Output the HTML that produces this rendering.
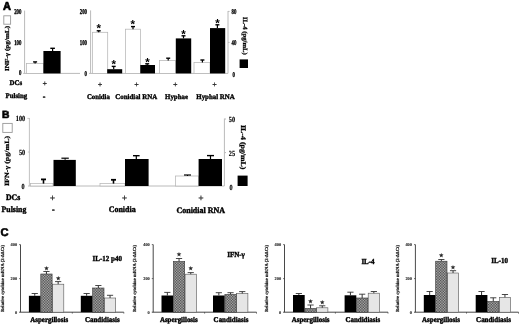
<!DOCTYPE html>
<html lang="en"><head><meta charset="utf-8"><title>Figure</title>
<style>
html,body{margin:0;padding:0;background:#fff;}
body{width:520px;height:325px;overflow:hidden;}
svg{display:block;text-rendering:geometricPrecision;}
.ff-serif{font-family:"Liberation Serif",serif;}
.ff-sans{font-family:"Liberation Sans","DejaVu Sans",sans-serif;}
</style></head><body>
<svg width="520" height="325" viewBox="0 0 520 325">
<defs>
<pattern id="hatch" width="1.6" height="1.6" patternUnits="userSpaceOnUse">
<rect width="1.6" height="1.6" fill="#c2c2c2"/>
<rect x="0" y="0" width="0.8" height="0.8" fill="#383838"/>
<rect x="0.8" y="0.8" width="0.8" height="0.8" fill="#383838"/>
</pattern>
<filter id="soft2" x="-2%" y="-2%" width="104%" height="104%"><feGaussianBlur stdDeviation="0.22"/></filter>
<filter id="soft" x="-2%" y="-2%" width="104%" height="104%"><feGaussianBlur stdDeviation="0.45"/></filter>
</defs>
<rect width="520" height="325" fill="#fff"/>
<g filter="url(#soft)">
<text class="ff-sans" transform="translate(2.9,10) scale(0.95,1.0)" font-size="11.6" font-weight="bold" text-anchor="start" fill="#000" stroke="#000" stroke-width="0.7" >A</text>
<rect x="3.80" y="15.80" width="6.80" height="8.40" fill="#fff" stroke="#999" stroke-width="0.9"/>
<text class="ff-serif" transform="translate(9.4,71) rotate(-90) scale(1.0,0.85)" font-size="7.2" font-weight="bold" text-anchor="start" fill="#000" stroke="#000" stroke-width="0.3" >INF-γ (pg/mL)</text>
<line x1="24.60" y1="10.60" x2="24.60" y2="73.40" stroke="#bababa" stroke-width="1"/>
<line x1="23.20" y1="73.40" x2="80.00" y2="73.40" stroke="#bababa" stroke-width="1"/>
<text class="ff-serif" transform="translate(21.4,13.5) scale(0.62,0.95)" font-size="7.8" font-weight="bold" text-anchor="end" fill="#000" stroke="#000" stroke-width="0.35" >200</text>
<text class="ff-serif" transform="translate(21.4,44.7) scale(0.62,0.95)" font-size="7.8" font-weight="bold" text-anchor="end" fill="#000" stroke="#000" stroke-width="0.35" >100</text>
<text class="ff-serif" transform="translate(21.4,75.1) scale(0.62,0.95)" font-size="7.8" font-weight="bold" text-anchor="end" fill="#000" stroke="#000" stroke-width="0.35" >0</text>
<rect x="26.50" y="63.50" width="17.00" height="9.90" fill="#fff" stroke="#b6b6b6" stroke-width="0.75"/>
<line x1="35.10" y1="63.50" x2="35.10" y2="61.90" stroke="#000" stroke-width="1.2"/>
<line x1="33.10" y1="61.90" x2="37.10" y2="61.90" stroke="#000" stroke-width="1.4"/>
<rect x="43.40" y="51.00" width="17.20" height="22.40" fill="#000"/>
<line x1="52.60" y1="51.00" x2="52.60" y2="48.30" stroke="#000" stroke-width="1.2"/>
<line x1="50.30" y1="48.30" x2="54.90" y2="48.30" stroke="#000" stroke-width="1.4"/>
<text class="ff-serif" transform="translate(9.5,84.7) scale(0.97,1.0)" font-size="7.1" font-weight="bold" text-anchor="start" fill="#000" stroke="#000" stroke-width="0.35" >DCs</text>
<text class="ff-serif" transform="translate(5.5,98) scale(0.97,1.0)" font-size="7.1" font-weight="bold" text-anchor="start" fill="#000" stroke="#000" stroke-width="0.35" >Pulsing</text>
<text class="ff-serif" transform="translate(44.9,85.956)" font-size="8" font-weight="bold" text-anchor="middle" fill="#222" stroke="#222" stroke-width="0.2" >+</text>
<text class="ff-serif" transform="translate(44.1,99)" font-size="8" font-weight="bold" text-anchor="middle" fill="#000" stroke="#000" stroke-width="0.35" >-</text>
<line x1="90.60" y1="10.40" x2="90.60" y2="73.40" stroke="#bababa" stroke-width="1"/>
<line x1="89.00" y1="73.40" x2="228.00" y2="73.40" stroke="#bababa" stroke-width="1"/>
<text class="ff-serif" transform="translate(87,13.5) scale(0.62,0.95)" font-size="7.8" font-weight="bold" text-anchor="end" fill="#000" stroke="#000" stroke-width="0.35" >200</text>
<text class="ff-serif" transform="translate(87,44.7) scale(0.62,0.95)" font-size="7.8" font-weight="bold" text-anchor="end" fill="#000" stroke="#000" stroke-width="0.35" >100</text>
<text class="ff-serif" transform="translate(87,75.6) scale(0.62,0.95)" font-size="7.8" font-weight="bold" text-anchor="end" fill="#000" stroke="#000" stroke-width="0.35" >0</text>
<rect x="92.40" y="32.30" width="15.30" height="41.10" fill="#fff" stroke="#b6b6b6" stroke-width="0.75"/>
<line x1="98.70" y1="32.30" x2="98.70" y2="30.80" stroke="#000" stroke-width="1.2"/>
<line x1="96.70" y1="30.80" x2="100.70" y2="30.80" stroke="#000" stroke-width="1.4"/>
<text class="ff-sans" transform="translate(98.7,32.272999999999996)" font-size="11.5" font-weight="bold" text-anchor="middle" fill="#000" stroke="#000" stroke-width="0" >*</text>
<rect x="107.20" y="69.20" width="15.00" height="4.20" fill="#000"/>
<line x1="113.70" y1="69.20" x2="113.70" y2="66.40" stroke="#000" stroke-width="1.2"/>
<line x1="111.70" y1="66.40" x2="115.70" y2="66.40" stroke="#000" stroke-width="1.4"/>
<text class="ff-sans" transform="translate(113.8,68.173)" font-size="11.5" font-weight="bold" text-anchor="middle" fill="#000" stroke="#000" stroke-width="0" >*</text>
<rect x="125.40" y="29.20" width="15.20" height="44.20" fill="#fff" stroke="#b6b6b6" stroke-width="0.75"/>
<line x1="133.00" y1="29.20" x2="133.00" y2="26.60" stroke="#000" stroke-width="1.2"/>
<line x1="131.00" y1="26.60" x2="135.00" y2="26.60" stroke="#000" stroke-width="1.4"/>
<text class="ff-sans" transform="translate(132.8,28.273)" font-size="11.5" font-weight="bold" text-anchor="middle" fill="#000" stroke="#000" stroke-width="0" >*</text>
<rect x="140.30" y="65.00" width="14.70" height="8.40" fill="#000"/>
<line x1="147.20" y1="65.00" x2="147.20" y2="63.80" stroke="#000" stroke-width="1.2"/>
<line x1="145.20" y1="63.80" x2="149.20" y2="63.80" stroke="#000" stroke-width="1.4"/>
<text class="ff-sans" transform="translate(147.4,66.073)" font-size="11.5" font-weight="bold" text-anchor="middle" fill="#000" stroke="#000" stroke-width="0" >*</text>
<rect x="159.40" y="60.60" width="16.20" height="12.80" fill="#fff" stroke="#b6b6b6" stroke-width="0.75"/>
<line x1="168.20" y1="60.60" x2="168.20" y2="58.20" stroke="#000" stroke-width="1.2"/>
<line x1="166.20" y1="58.20" x2="170.20" y2="58.20" stroke="#000" stroke-width="1.4"/>
<rect x="175.80" y="38.40" width="15.40" height="35.00" fill="#000"/>
<line x1="183.50" y1="38.40" x2="183.50" y2="35.80" stroke="#000" stroke-width="1.2"/>
<line x1="181.50" y1="35.80" x2="185.50" y2="35.80" stroke="#000" stroke-width="1.4"/>
<text class="ff-sans" transform="translate(183.5,38.373000000000005)" font-size="11.5" font-weight="bold" text-anchor="middle" fill="#000" stroke="#000" stroke-width="0" >*</text>
<rect x="194.00" y="62.50" width="16.00" height="10.90" fill="#fff" stroke="#b6b6b6" stroke-width="0.75"/>
<line x1="202.40" y1="62.50" x2="202.40" y2="60.00" stroke="#000" stroke-width="1.2"/>
<line x1="200.40" y1="60.00" x2="204.40" y2="60.00" stroke="#000" stroke-width="1.4"/>
<rect x="210.00" y="28.10" width="15.20" height="45.30" fill="#000"/>
<line x1="217.40" y1="28.10" x2="217.40" y2="24.80" stroke="#000" stroke-width="1.2"/>
<line x1="215.40" y1="24.80" x2="219.40" y2="24.80" stroke="#000" stroke-width="1.4"/>
<text class="ff-sans" transform="translate(217.4,26.673)" font-size="11.5" font-weight="bold" text-anchor="middle" fill="#000" stroke="#000" stroke-width="0" >*</text>
<line x1="228.00" y1="11.00" x2="228.00" y2="73.40" stroke="#bababa" stroke-width="1"/>
<line x1="228.00" y1="11.40" x2="229.60" y2="11.40" stroke="#bababa" stroke-width="1"/>
<line x1="228.00" y1="42.40" x2="229.60" y2="42.40" stroke="#bababa" stroke-width="1"/>
<text class="ff-serif" transform="translate(231.6,13.8) scale(0.62,0.95)" font-size="7.8" font-weight="bold" text-anchor="start" fill="#000" stroke="#000" stroke-width="0.35" >80</text>
<text class="ff-serif" transform="translate(231.6,44.8) scale(0.62,0.95)" font-size="7.8" font-weight="bold" text-anchor="start" fill="#000" stroke="#000" stroke-width="0.35" >40</text>
<text class="ff-serif" transform="translate(232.4,77) scale(0.62,0.95)" font-size="7.8" font-weight="bold" text-anchor="start" fill="#000" stroke="#000" stroke-width="0.35" >0</text>
<text class="ff-serif" transform="translate(243.2,17) rotate(90) scale(0.93,0.9)" font-size="7.2" font-weight="bold" text-anchor="start" fill="#000" stroke="#000" stroke-width="0.3" >IL-4 (pg/mL)</text>
<rect x="239.60" y="59.40" width="8.40" height="8.60" fill="#000"/>
<text class="ff-serif" transform="translate(100,87.156)" font-size="8" font-weight="bold" text-anchor="middle" fill="#222" stroke="#222" stroke-width="0.2" >+</text>
<text class="ff-serif" transform="translate(136.6,87.156)" font-size="8" font-weight="bold" text-anchor="middle" fill="#222" stroke="#222" stroke-width="0.2" >+</text>
<text class="ff-serif" transform="translate(175.4,87.156)" font-size="8" font-weight="bold" text-anchor="middle" fill="#222" stroke="#222" stroke-width="0.2" >+</text>
<text class="ff-serif" transform="translate(214.6,87.156)" font-size="8" font-weight="bold" text-anchor="middle" fill="#222" stroke="#222" stroke-width="0.2" >+</text>
<text class="ff-serif" transform="translate(98.4,99.4) scale(0.955,1.0)" font-size="7.1" font-weight="bold" text-anchor="middle" fill="#000" stroke="#000" stroke-width="0.35" >Conidia</text>
<text class="ff-serif" transform="translate(136.2,99.4) scale(0.97,1.0)" font-size="7.1" font-weight="bold" text-anchor="middle" fill="#000" stroke="#000" stroke-width="0.35" >Conidial RNA</text>
<text class="ff-serif" transform="translate(176.5,99.4) scale(0.97,1.0)" font-size="7.1" font-weight="bold" text-anchor="middle" fill="#000" stroke="#000" stroke-width="0.35" >Hyphae</text>
<text class="ff-serif" transform="translate(215.5,99.4) scale(0.97,1.0)" font-size="7.1" font-weight="bold" text-anchor="middle" fill="#000" stroke="#000" stroke-width="0.35" >Hyphal RNA</text>
<text class="ff-sans" transform="translate(2.1,117.9)" font-size="10.3" font-weight="bold" text-anchor="start" fill="#000" stroke="#000" stroke-width="0.6" >B</text>
<rect x="2.80" y="123.40" width="9.40" height="9.00" fill="#fff" stroke="#999" stroke-width="0.9"/>
<text class="ff-serif" transform="translate(9.3,186) rotate(-90) scale(1.0,0.8)" font-size="8" font-weight="bold" text-anchor="start" fill="#000" stroke="#000" stroke-width="0.3" >IFN-γ (pg/mL)</text>
<line x1="29.40" y1="118.00" x2="29.40" y2="186.00" stroke="#bababa" stroke-width="0.9"/>
<line x1="27.40" y1="118.40" x2="29.40" y2="118.40" stroke="#bababa" stroke-width="0.8"/>
<line x1="27.80" y1="152.00" x2="29.40" y2="152.00" stroke="#bababa" stroke-width="0.8"/>
<line x1="28.00" y1="186.00" x2="224.40" y2="186.00" stroke="#bababa" stroke-width="1"/>
<text class="ff-serif" transform="translate(25.2,121) scale(0.8,1.0)" font-size="7.8" font-weight="bold" text-anchor="end" fill="#000" stroke="#000" stroke-width="0.15" >100</text>
<text class="ff-serif" transform="translate(25.2,154.8) scale(0.8,1.0)" font-size="7.8" font-weight="bold" text-anchor="end" fill="#000" stroke="#000" stroke-width="0.15" >50</text>
<text class="ff-serif" transform="translate(24.6,188.6) scale(0.8,1.0)" font-size="7.8" font-weight="bold" text-anchor="end" fill="#000" stroke="#000" stroke-width="0.15" >0</text>
<rect x="30.40" y="183.60" width="22.60" height="2.40" fill="#fff" stroke="#b6b6b6" stroke-width="0.75"/>
<line x1="43.50" y1="183.60" x2="43.50" y2="179.40" stroke="#000" stroke-width="1.6"/>
<line x1="41.00" y1="179.40" x2="46.00" y2="179.40" stroke="#000" stroke-width="1.8"/>
<rect x="53.50" y="159.90" width="22.30" height="26.10" fill="#000"/>
<line x1="65.10" y1="159.90" x2="65.10" y2="158.20" stroke="#000" stroke-width="1"/>
<line x1="61.40" y1="158.20" x2="68.80" y2="158.20" stroke="#000" stroke-width="1.2"/>
<rect x="100.00" y="183.60" width="25.00" height="2.40" fill="#fff" stroke="#b6b6b6" stroke-width="0.75"/>
<line x1="113.50" y1="183.60" x2="113.50" y2="179.80" stroke="#000" stroke-width="1.6"/>
<line x1="111.00" y1="179.80" x2="116.00" y2="179.80" stroke="#000" stroke-width="1.8"/>
<rect x="125.00" y="159.00" width="23.60" height="27.00" fill="#000"/>
<line x1="136.30" y1="159.00" x2="136.30" y2="155.70" stroke="#000" stroke-width="1.2"/>
<line x1="133.00" y1="155.70" x2="139.60" y2="155.70" stroke="#000" stroke-width="1.4"/>
<rect x="175.40" y="176.00" width="23.20" height="10.00" fill="#fff" stroke="#b6b6b6" stroke-width="0.75"/>
<line x1="187.50" y1="176.00" x2="187.50" y2="175.00" stroke="#000" stroke-width="1"/>
<line x1="184.00" y1="175.00" x2="191.00" y2="175.00" stroke="#000" stroke-width="1.2"/>
<rect x="198.60" y="159.00" width="23.40" height="27.00" fill="#000"/>
<line x1="210.50" y1="159.00" x2="210.50" y2="155.60" stroke="#000" stroke-width="1.2"/>
<line x1="207.00" y1="155.60" x2="214.00" y2="155.60" stroke="#000" stroke-width="1.4"/>
<line x1="224.40" y1="118.60" x2="224.40" y2="186.00" stroke="#bababa" stroke-width="1"/>
<line x1="224.40" y1="119.00" x2="226.00" y2="119.00" stroke="#bababa" stroke-width="1"/>
<line x1="224.40" y1="152.60" x2="226.00" y2="152.60" stroke="#bababa" stroke-width="1"/>
<text class="ff-serif" transform="translate(228.8,122) scale(0.8,1.0)" font-size="7.8" font-weight="bold" text-anchor="start" fill="#000" stroke="#000" stroke-width="0.15" >50</text>
<text class="ff-serif" transform="translate(228.8,156) scale(0.8,1.0)" font-size="7.8" font-weight="bold" text-anchor="start" fill="#000" stroke="#000" stroke-width="0.15" >25</text>
<text class="ff-serif" transform="translate(229.6,189.6) scale(0.8,1.0)" font-size="7.8" font-weight="bold" text-anchor="start" fill="#000" stroke="#000" stroke-width="0.15" >0</text>
<text class="ff-serif" transform="translate(241,125) rotate(90) scale(1.0,0.9)" font-size="7.9" font-weight="bold" text-anchor="start" fill="#000" stroke="#000" stroke-width="0.3" >IL-4 (pg/mL)</text>
<rect x="237.60" y="175.60" width="10.00" height="10.40" fill="#000"/>
<text class="ff-serif" transform="translate(6,200.2) scale(0.93,1.0)" font-size="8.4" font-weight="bold" text-anchor="start" fill="#000" stroke="#000" stroke-width="0.4" >DCs</text>
<text class="ff-serif" transform="translate(1.6,211.8) scale(0.93,1.0)" font-size="8.4" font-weight="bold" text-anchor="start" fill="#000" stroke="#000" stroke-width="0.4" >Pulsing</text>
<text class="ff-serif" transform="translate(52.4,201.254)" font-size="9.5" font-weight="bold" text-anchor="middle" fill="#222" stroke="#222" stroke-width="0.2" >+</text>
<text class="ff-serif" transform="translate(124.4,201.254)" font-size="9.5" font-weight="bold" text-anchor="middle" fill="#222" stroke="#222" stroke-width="0.2" >+</text>
<text class="ff-serif" transform="translate(201,201.254)" font-size="9.5" font-weight="bold" text-anchor="middle" fill="#222" stroke="#222" stroke-width="0.2" >+</text>
<text class="ff-serif" transform="translate(53.4,212)" font-size="8" font-weight="bold" text-anchor="middle" fill="#000" stroke="#000" stroke-width="0.35" >-</text>
<text class="ff-serif" transform="translate(122.2,212.4) scale(0.95,1.0)" font-size="8.4" font-weight="bold" text-anchor="middle" fill="#000" stroke="#000" stroke-width="0.4" >Conidia</text>
<text class="ff-serif" transform="translate(200.7,213.3) scale(0.95,1.0)" font-size="8.4" font-weight="bold" text-anchor="middle" fill="#000" stroke="#000" stroke-width="0.4" >Conidial RNA</text>
<text class="ff-sans" transform="translate(0.5,236.2)" font-size="11.2" font-weight="bold" text-anchor="start" fill="#000" stroke="#000" stroke-width="0.6" >C</text>
<text class="ff-serif" transform="translate(4.300000000000001,312.0) rotate(-90)" font-size="4.6" font-weight="bold" text-anchor="start" fill="#111" stroke="#111" stroke-width="0.18" >Relative cytokine mRNA (2-ΔΔCt)</text>
<line x1="20.50" y1="244.60" x2="20.50" y2="312.20" stroke="#333" stroke-width="0.9"/>
<line x1="19.10" y1="244.60" x2="20.50" y2="244.60" stroke="#333" stroke-width="0.7"/>
<line x1="19.10" y1="278.60" x2="20.50" y2="278.60" stroke="#333" stroke-width="0.7"/>
<line x1="19.10" y1="312.20" x2="123.80" y2="312.20" stroke="#333" stroke-width="0.9"/>
<line x1="72.30" y1="312.20" x2="72.30" y2="313.60" stroke="#333" stroke-width="0.7"/>
<line x1="123.80" y1="312.20" x2="123.80" y2="313.60" stroke="#333" stroke-width="0.7"/>
<text class="ff-serif" transform="translate(17.1,246.1)" font-size="4.4" font-weight="bold" text-anchor="end" fill="#222" stroke="#222" stroke-width="0.08" >400</text>
<text class="ff-serif" transform="translate(17.1,280.1)" font-size="4.4" font-weight="bold" text-anchor="end" fill="#222" stroke="#222" stroke-width="0.08" >200</text>
<text class="ff-serif" transform="translate(17.1,313.7)" font-size="4.4" font-weight="bold" text-anchor="end" fill="#222" stroke="#222" stroke-width="0.08" >0</text>
<rect x="28.90" y="295.80" width="11.70" height="16.40" fill="#000"/>
<line x1="34.75" y1="295.80" x2="34.75" y2="293.50" stroke="#333" stroke-width="1.0"/>
<line x1="31.65" y1="293.50" x2="37.85" y2="293.50" stroke="#333" stroke-width="0.9"/>
<line x1="46.45" y1="274.00" x2="46.45" y2="271.50" stroke="#333" stroke-width="1.0"/>
<line x1="43.35" y1="271.50" x2="49.55" y2="271.50" stroke="#333" stroke-width="0.9"/>
<text class="ff-sans" transform="translate(46.449999999999996,269.6)" font-size="5" font-weight="normal" text-anchor="middle" fill="#222" stroke="#222" stroke-width="0.3" >★</text>
<rect x="52.50" y="284.20" width="11.30" height="28.00" fill="#e6e6e6" stroke="#555" stroke-width="0.6"/>
<line x1="58.15" y1="284.20" x2="58.15" y2="281.60" stroke="#333" stroke-width="1.0"/>
<line x1="55.05" y1="281.60" x2="61.25" y2="281.60" stroke="#333" stroke-width="0.9"/>
<text class="ff-sans" transform="translate(58.15,279.6)" font-size="5" font-weight="normal" text-anchor="middle" fill="#222" stroke="#222" stroke-width="0.3" >★</text>
<rect x="80.80" y="295.80" width="11.70" height="16.40" fill="#000"/>
<line x1="86.65" y1="295.80" x2="86.65" y2="293.50" stroke="#333" stroke-width="1.0"/>
<line x1="83.55" y1="293.50" x2="89.75" y2="293.50" stroke="#333" stroke-width="0.9"/>
<line x1="98.35" y1="288.00" x2="98.35" y2="285.50" stroke="#333" stroke-width="1.0"/>
<line x1="95.25" y1="285.50" x2="101.45" y2="285.50" stroke="#333" stroke-width="0.9"/>
<rect x="104.40" y="298.00" width="11.30" height="14.20" fill="#e6e6e6" stroke="#555" stroke-width="0.6"/>
<line x1="110.05" y1="298.00" x2="110.05" y2="295.30" stroke="#333" stroke-width="1.0"/>
<line x1="106.95" y1="295.30" x2="113.15" y2="295.30" stroke="#333" stroke-width="0.9"/>
<text class="ff-serif" transform="translate(107.2,260.9) scale(0.91,1.0)" font-size="7.7" font-weight="bold" text-anchor="middle" fill="#000" stroke="#000" stroke-width="0.4" >IL-12 p40</text>
<text class="ff-serif" transform="translate(49.2,322) scale(0.94,1.0)" font-size="7.4" font-weight="bold" text-anchor="middle" fill="#000" stroke="#000" stroke-width="0.4" >Aspergillosis</text>
<text class="ff-serif" transform="translate(102.3,322) scale(0.94,1.0)" font-size="7.4" font-weight="bold" text-anchor="middle" fill="#000" stroke="#000" stroke-width="0.4" >Candidiasis</text>
<text class="ff-serif" transform="translate(136.0,312.0) rotate(-90)" font-size="4.6" font-weight="bold" text-anchor="start" fill="#111" stroke="#111" stroke-width="0.18" >Relative cytokine mRNA (2-ΔΔCt)</text>
<line x1="153.20" y1="244.60" x2="153.20" y2="312.20" stroke="#333" stroke-width="0.9"/>
<line x1="151.80" y1="244.60" x2="153.20" y2="244.60" stroke="#333" stroke-width="0.7"/>
<line x1="151.80" y1="278.60" x2="153.20" y2="278.60" stroke="#333" stroke-width="0.7"/>
<line x1="151.80" y1="312.20" x2="256.50" y2="312.20" stroke="#333" stroke-width="0.9"/>
<line x1="204.60" y1="312.20" x2="204.60" y2="313.60" stroke="#333" stroke-width="0.7"/>
<line x1="256.50" y1="312.20" x2="256.50" y2="313.60" stroke="#333" stroke-width="0.7"/>
<text class="ff-serif" transform="translate(149.79999999999998,246.1)" font-size="4.4" font-weight="bold" text-anchor="end" fill="#222" stroke="#222" stroke-width="0.08" >400</text>
<text class="ff-serif" transform="translate(149.79999999999998,280.1)" font-size="4.4" font-weight="bold" text-anchor="end" fill="#222" stroke="#222" stroke-width="0.08" >200</text>
<text class="ff-serif" transform="translate(149.79999999999998,313.7)" font-size="4.4" font-weight="bold" text-anchor="end" fill="#222" stroke="#222" stroke-width="0.08" >0</text>
<rect x="161.50" y="295.50" width="11.70" height="16.70" fill="#000"/>
<line x1="167.35" y1="295.50" x2="167.35" y2="292.40" stroke="#333" stroke-width="1.0"/>
<line x1="164.25" y1="292.40" x2="170.45" y2="292.40" stroke="#333" stroke-width="0.9"/>
<line x1="179.05" y1="261.50" x2="179.05" y2="258.50" stroke="#333" stroke-width="1.0"/>
<line x1="175.95" y1="258.50" x2="182.15" y2="258.50" stroke="#333" stroke-width="0.9"/>
<text class="ff-sans" transform="translate(179.04999999999998,256.4)" font-size="5" font-weight="normal" text-anchor="middle" fill="#222" stroke="#222" stroke-width="0.3" >★</text>
<rect x="185.10" y="274.20" width="11.30" height="38.00" fill="#e6e6e6" stroke="#555" stroke-width="0.6"/>
<line x1="190.75" y1="274.20" x2="190.75" y2="272.60" stroke="#333" stroke-width="1.0"/>
<line x1="187.65" y1="272.60" x2="193.85" y2="272.60" stroke="#333" stroke-width="0.9"/>
<text class="ff-sans" transform="translate(190.75,270)" font-size="5" font-weight="normal" text-anchor="middle" fill="#222" stroke="#222" stroke-width="0.3" >★</text>
<rect x="213.00" y="295.50" width="11.70" height="16.70" fill="#000"/>
<line x1="218.85" y1="295.50" x2="218.85" y2="292.70" stroke="#333" stroke-width="1.0"/>
<line x1="215.75" y1="292.70" x2="221.95" y2="292.70" stroke="#333" stroke-width="0.9"/>
<line x1="230.55" y1="294.50" x2="230.55" y2="292.70" stroke="#333" stroke-width="1.0"/>
<line x1="227.45" y1="292.70" x2="233.65" y2="292.70" stroke="#333" stroke-width="0.9"/>
<rect x="236.60" y="293.50" width="11.30" height="18.70" fill="#e6e6e6" stroke="#555" stroke-width="0.6"/>
<line x1="242.25" y1="293.50" x2="242.25" y2="291.60" stroke="#333" stroke-width="1.0"/>
<line x1="239.15" y1="291.60" x2="245.35" y2="291.60" stroke="#333" stroke-width="0.9"/>
<text class="ff-serif" transform="translate(236,256.9) scale(0.91,1.0)" font-size="7.7" font-weight="bold" text-anchor="middle" fill="#000" stroke="#000" stroke-width="0.4" >IFN-γ</text>
<text class="ff-serif" transform="translate(178.8,322) scale(0.94,1.0)" font-size="7.4" font-weight="bold" text-anchor="middle" fill="#000" stroke="#000" stroke-width="0.4" >Aspergillosis</text>
<text class="ff-serif" transform="translate(231,322) scale(0.94,1.0)" font-size="7.4" font-weight="bold" text-anchor="middle" fill="#000" stroke="#000" stroke-width="0.4" >Candidiasis</text>
<text class="ff-serif" transform="translate(268.3,312.0) rotate(-90)" font-size="4.6" font-weight="bold" text-anchor="start" fill="#111" stroke="#111" stroke-width="0.18" >Relative cytokine mRNA (2-ΔΔCt)</text>
<line x1="284.50" y1="244.60" x2="284.50" y2="312.20" stroke="#333" stroke-width="0.9"/>
<line x1="283.10" y1="244.60" x2="284.50" y2="244.60" stroke="#333" stroke-width="0.7"/>
<line x1="283.10" y1="278.60" x2="284.50" y2="278.60" stroke="#333" stroke-width="0.7"/>
<line x1="283.10" y1="312.20" x2="388.00" y2="312.20" stroke="#333" stroke-width="0.9"/>
<line x1="335.40" y1="312.20" x2="335.40" y2="313.60" stroke="#333" stroke-width="0.7"/>
<line x1="388.00" y1="312.20" x2="388.00" y2="313.60" stroke="#333" stroke-width="0.7"/>
<text class="ff-serif" transform="translate(281.1,246.1)" font-size="4.4" font-weight="bold" text-anchor="end" fill="#222" stroke="#222" stroke-width="0.08" >400</text>
<text class="ff-serif" transform="translate(281.1,280.1)" font-size="4.4" font-weight="bold" text-anchor="end" fill="#222" stroke="#222" stroke-width="0.08" >200</text>
<text class="ff-serif" transform="translate(281.1,313.7)" font-size="4.4" font-weight="bold" text-anchor="end" fill="#222" stroke="#222" stroke-width="0.08" >0</text>
<rect x="293.00" y="295.00" width="11.70" height="17.20" fill="#000"/>
<line x1="298.85" y1="295.00" x2="298.85" y2="293.50" stroke="#333" stroke-width="1.0"/>
<line x1="295.75" y1="293.50" x2="301.95" y2="293.50" stroke="#333" stroke-width="0.9"/>
<line x1="310.55" y1="308.50" x2="310.55" y2="305.00" stroke="#333" stroke-width="1.0"/>
<line x1="307.45" y1="305.00" x2="313.65" y2="305.00" stroke="#333" stroke-width="0.9"/>
<text class="ff-sans" transform="translate(310.55,303.2)" font-size="5" font-weight="normal" text-anchor="middle" fill="#222" stroke="#222" stroke-width="0.3" >★</text>
<rect x="316.60" y="307.80" width="11.30" height="4.40" fill="#e6e6e6" stroke="#555" stroke-width="0.6"/>
<line x1="322.25" y1="307.80" x2="322.25" y2="305.80" stroke="#333" stroke-width="1.0"/>
<line x1="319.15" y1="305.80" x2="325.35" y2="305.80" stroke="#333" stroke-width="0.9"/>
<text class="ff-sans" transform="translate(322.25,303.8)" font-size="5" font-weight="normal" text-anchor="middle" fill="#222" stroke="#222" stroke-width="0.3" >★</text>
<rect x="344.60" y="295.30" width="11.70" height="16.90" fill="#000"/>
<line x1="350.45" y1="295.30" x2="350.45" y2="292.20" stroke="#333" stroke-width="1.0"/>
<line x1="347.35" y1="292.20" x2="353.55" y2="292.20" stroke="#333" stroke-width="0.9"/>
<line x1="362.15" y1="298.00" x2="362.15" y2="294.20" stroke="#333" stroke-width="1.0"/>
<line x1="359.05" y1="294.20" x2="365.25" y2="294.20" stroke="#333" stroke-width="0.9"/>
<rect x="368.20" y="293.20" width="11.30" height="19.00" fill="#e6e6e6" stroke="#555" stroke-width="0.6"/>
<line x1="373.85" y1="293.20" x2="373.85" y2="291.50" stroke="#333" stroke-width="1.0"/>
<line x1="370.75" y1="291.50" x2="376.95" y2="291.50" stroke="#333" stroke-width="0.9"/>
<text class="ff-serif" transform="translate(368,264.1) scale(0.91,1.0)" font-size="7.7" font-weight="bold" text-anchor="middle" fill="#000" stroke="#000" stroke-width="0.4" >IL-4</text>
<text class="ff-serif" transform="translate(310.6,322) scale(0.94,1.0)" font-size="7.4" font-weight="bold" text-anchor="middle" fill="#000" stroke="#000" stroke-width="0.4" >Aspergillosis</text>
<text class="ff-serif" transform="translate(362.8,322) scale(0.94,1.0)" font-size="7.4" font-weight="bold" text-anchor="middle" fill="#000" stroke="#000" stroke-width="0.4" >Candidiasis</text>
<text class="ff-serif" transform="translate(398.8,312.0) rotate(-90)" font-size="4.6" font-weight="bold" text-anchor="start" fill="#111" stroke="#111" stroke-width="0.18" >Relative cytokine mRNA (2-ΔΔCt)</text>
<line x1="415.40" y1="244.60" x2="415.40" y2="312.20" stroke="#333" stroke-width="0.9"/>
<line x1="414.00" y1="244.60" x2="415.40" y2="244.60" stroke="#333" stroke-width="0.7"/>
<line x1="414.00" y1="278.60" x2="415.40" y2="278.60" stroke="#333" stroke-width="0.7"/>
<line x1="414.00" y1="312.20" x2="518.50" y2="312.20" stroke="#333" stroke-width="0.9"/>
<line x1="466.50" y1="312.20" x2="466.50" y2="313.60" stroke="#333" stroke-width="0.7"/>
<line x1="518.50" y1="312.20" x2="518.50" y2="313.60" stroke="#333" stroke-width="0.7"/>
<text class="ff-serif" transform="translate(412.0,246.1)" font-size="4.4" font-weight="bold" text-anchor="end" fill="#222" stroke="#222" stroke-width="0.08" >400</text>
<text class="ff-serif" transform="translate(412.0,280.1)" font-size="4.4" font-weight="bold" text-anchor="end" fill="#222" stroke="#222" stroke-width="0.08" >200</text>
<text class="ff-serif" transform="translate(412.0,313.7)" font-size="4.4" font-weight="bold" text-anchor="end" fill="#222" stroke="#222" stroke-width="0.08" >0</text>
<rect x="423.80" y="295.00" width="11.70" height="17.20" fill="#000"/>
<line x1="429.65" y1="295.00" x2="429.65" y2="291.50" stroke="#333" stroke-width="1.0"/>
<line x1="426.55" y1="291.50" x2="432.75" y2="291.50" stroke="#333" stroke-width="0.9"/>
<line x1="441.35" y1="261.20" x2="441.35" y2="259.50" stroke="#333" stroke-width="1.0"/>
<line x1="438.25" y1="259.50" x2="444.45" y2="259.50" stroke="#333" stroke-width="0.9"/>
<text class="ff-sans" transform="translate(441.35,257.4)" font-size="5" font-weight="normal" text-anchor="middle" fill="#222" stroke="#222" stroke-width="0.3" >★</text>
<rect x="447.40" y="273.00" width="11.30" height="39.20" fill="#e6e6e6" stroke="#555" stroke-width="0.6"/>
<line x1="453.05" y1="273.00" x2="453.05" y2="270.70" stroke="#333" stroke-width="1.0"/>
<line x1="449.95" y1="270.70" x2="456.15" y2="270.70" stroke="#333" stroke-width="0.9"/>
<text class="ff-sans" transform="translate(453.05,268.6)" font-size="5" font-weight="normal" text-anchor="middle" fill="#222" stroke="#222" stroke-width="0.3" >★</text>
<rect x="475.70" y="295.00" width="11.70" height="17.20" fill="#000"/>
<line x1="481.55" y1="295.00" x2="481.55" y2="291.50" stroke="#333" stroke-width="1.0"/>
<line x1="478.45" y1="291.50" x2="484.65" y2="291.50" stroke="#333" stroke-width="0.9"/>
<line x1="493.25" y1="301.50" x2="493.25" y2="297.80" stroke="#333" stroke-width="1.0"/>
<line x1="490.15" y1="297.80" x2="496.35" y2="297.80" stroke="#333" stroke-width="0.9"/>
<rect x="499.30" y="297.30" width="11.30" height="14.90" fill="#e6e6e6" stroke="#555" stroke-width="0.6"/>
<line x1="504.95" y1="297.30" x2="504.95" y2="294.50" stroke="#333" stroke-width="1.0"/>
<line x1="501.85" y1="294.50" x2="508.05" y2="294.50" stroke="#333" stroke-width="0.9"/>
<text class="ff-serif" transform="translate(499.6,262.5) scale(0.91,1.0)" font-size="7.7" font-weight="bold" text-anchor="middle" fill="#000" stroke="#000" stroke-width="0.4" >IL-10</text>
<text class="ff-serif" transform="translate(441,322) scale(0.94,1.0)" font-size="7.4" font-weight="bold" text-anchor="middle" fill="#000" stroke="#000" stroke-width="0.4" >Aspergillosis</text>
<text class="ff-serif" transform="translate(493.5,322) scale(0.94,1.0)" font-size="7.4" font-weight="bold" text-anchor="middle" fill="#000" stroke="#000" stroke-width="0.4" >Candidiasis</text>
</g>
<g>
<rect x="40.80" y="274.00" width="11.30" height="38.20" fill="url(#hatch)" stroke="#333" stroke-width="0.6"/>
<rect x="92.70" y="288.00" width="11.30" height="24.20" fill="url(#hatch)" stroke="#333" stroke-width="0.6"/>
<rect x="173.40" y="261.50" width="11.30" height="50.70" fill="url(#hatch)" stroke="#333" stroke-width="0.6"/>
<rect x="224.90" y="294.50" width="11.30" height="17.70" fill="url(#hatch)" stroke="#333" stroke-width="0.6"/>
<rect x="304.90" y="308.50" width="11.30" height="3.70" fill="url(#hatch)" stroke="#333" stroke-width="0.6"/>
<rect x="356.50" y="298.00" width="11.30" height="14.20" fill="url(#hatch)" stroke="#333" stroke-width="0.6"/>
<rect x="435.70" y="261.20" width="11.30" height="51.00" fill="url(#hatch)" stroke="#333" stroke-width="0.6"/>
<rect x="487.60" y="301.50" width="11.30" height="10.70" fill="url(#hatch)" stroke="#333" stroke-width="0.6"/>
</g>
</svg>
</body></html>
